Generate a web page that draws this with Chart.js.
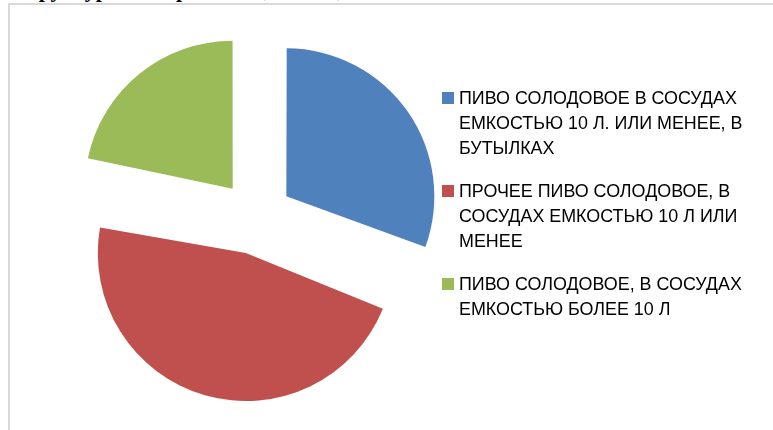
<!DOCTYPE html>
<html>
<head>
<meta charset="utf-8">
<script src="https://cdn.jsdelivr.net/npm/chart.js@4/dist/chart.umd.min.js"></script>
<style>
html, body { margin: 0; padding: 0; background: #fff; overflow: hidden; }
#wrap { position: relative; width: 773px; height: 430px; overflow: hidden; }
#frame { position: absolute; left: 8px; top: 3px; width: 780px; height: 440px;
  border-left: 2px solid #d9d9d9; border-top: 2px solid #d9d9d9; box-sizing: border-box; }
#title { position: absolute; left: 12px; top: -23px; white-space: nowrap;
  font: bold 22px "Liberation Serif", "DejaVu Serif", serif; color: #000; }
#chartBox { position: absolute; left: 0; top: 0; width: 773px; height: 430px; }
#legend { position: absolute; left: 442px; top: 86px; display: flex; flex-direction: column; gap: 18px;
  font: 17.9px "Liberation Sans", Arial, sans-serif; color: #000; line-height: 25px; }
.item { position: relative; padding-left: 17px; }
.item .box { position: absolute; left: 0; top: 6px; width: 12px; height: 12px; }
</style>
</head>
<body>
<div id="wrap">
  <div id="frame"></div>
  <div id="title">Структура импорта пива, 2015 г., %</div>
  <div id="chartBox"><canvas id="pie"></canvas></div>
  <div id="legend"></div>
</div>
<script>
// categories (split into the lines they wrap to in the legend)
var categories = [
	['ПИВО СОЛОДОВОЕ В СОСУДАХ', 'ЕМКОСТЬЮ 10 Л. ИЛИ МЕНЕЕ, В', 'БУТЫЛКАХ'],
	['ПРОЧЕЕ ПИВО СОЛОДОВОЕ, В', 'СОСУДАХ ЕМКОСТЬЮ 10 Л ИЛИ', 'МЕНЕЕ'],
	['ПИВО СОЛОДОВОЕ, В СОСУДАХ', 'ЕМКОСТЬЮ БОЛЕЕ 10 Л']
];
// shares, %
var shares = [30.6, 47.7, 21.7];
var colors = ['#4f81bd', '#c0504d', '#9bbb59'];

var RADIUS = 148;
var EXPLODE = 37; // px each slice is pulled out from the centre

// arc.draw() moves a slice by offset/4 but also grows its radius by offset/4 * (1 - sin(circ)),
// so take that growth back off after the controller has laid the arcs out
var evenExplode = {
	id: 'evenExplode',
	afterDatasetsUpdate: function (chart) {
		chart.getDatasetMeta(0).data.forEach(function (arc) {
			var fix = 1 - Math.sin(Math.min(Math.PI, arc.circumference));
			arc.outerRadius = RADIUS - EXPLODE * fix;
		});
	}
};

var chart = new Chart(document.getElementById('pie'), {
	type: 'pie',
	data: {
		labels: categories,
		datasets: [{
			data: shares,
			backgroundColor: colors,
			borderWidth: 0,
			offset: EXPLODE * 4,
			hoverOffset: 0
		}]
	},
	options: {
		responsive: true,
		maintainAspectRatio: false,
		animation: false,
		radius: RADIUS,
		events: [],
		layout: { padding: { left: 0, right: 261, top: 5, bottom: 0 } },
		plugins: {
			legend: { display: false },
			tooltip: { enabled: false }
		}
	},
	plugins: [evenExplode]
});

// legend built from the same arrays
var legend = document.getElementById('legend');
categories.forEach(function (lines, i) {
	var item = document.createElement('div');
	item.className = 'item';
	var box = document.createElement('span');
	box.className = 'box';
	box.style.background = colors[i];
	item.appendChild(box);
	lines.forEach(function (t) {
		var row = document.createElement('div');
		row.textContent = t;
		item.appendChild(row);
	});
	legend.appendChild(item);
});
</script>
</body>
</html>
